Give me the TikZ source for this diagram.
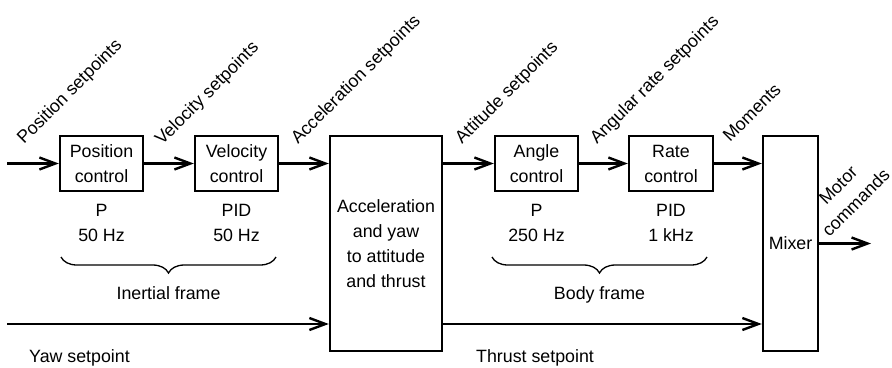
\documentclass[tikz,border=0pt]{standalone}
\usepackage{fontspec}
\setmainfont{Liberation Sans}
\usetikzlibrary{arrows.meta,decorations.pathreplacing}
\begin{document}
\begin{tikzpicture}[x=1pt,y=-1pt,
  every node/.style={font=\fontsize{17.8}{25}\selectfont},
  block/.style={draw, line width=2.4pt, align=center, inner sep=0pt},
  flow/.style={line width=2.4pt, -{Straight Barb[length=16pt,width=12pt]}},
  tag/.style={anchor=base west, rotate=45, inner sep=0pt},
  note/.style={anchor=base west, inner sep=0pt},
  info/.style={align=center, inner sep=0pt},
  framebrace/.style={decorate, decoration={brace, mirror, amplitude=16pt}, line width=1.3pt}]

% canvas
\fill[white] (0,0) rectangle (892,367);
\useasboundingbox (0,0) rectangle (892,367);

% controller blocks
\node[block, minimum width=83pt, minimum height=55pt] (pos) at (101.5,163.5) {Position\\control};
\node[block, minimum width=83pt, minimum height=55pt] (vel) at (236.5,163.5) {Velocity\\control};
\node[block, minimum width=112pt, minimum height=215pt] (acc) at (386,243.5) {Acceleration\\and yaw\\to attitude\\and thrust};
\node[block, minimum width=83pt, minimum height=55pt] (ang) at (536.5,163.5) {Angle\\control};
\node[block, minimum width=84pt, minimum height=55pt] (rate) at (671,163.5) {Rate\\control};
\node[block, minimum width=55pt, minimum height=215pt] (mix) at (790.5,243.5) {Mixer};

% free ends of the signal lines
\coordinate (posin) at (7,163.5);
\coordinate (yawin) at (7,324);
\coordinate (out) at (871,243.5);

% signal flow
\draw[flow] (posin) -- (pos);
\draw[flow] (pos) -- (vel);
\draw[flow] (vel) -- (acc.west |- vel);
\draw[flow] (acc.east |- ang) -- (ang);
\draw[flow] (ang) -- (rate);
\draw[flow] (rate) -- (mix.west |- rate);
\draw[flow] (yawin) -- (acc.west |- yawin);
\draw[flow] (acc.east |- yawin) -- (mix.west |- yawin);
\draw[flow] (mix) -- (out);

% signal names
\node[tag] (lpos) at (24,145) {Position setpoints};
\node[tag] (lvel) at (162,146) {Velocity setpoints};
\node[tag] (lacc) at (298,145) {Acceleration setpoints};
\node[tag] (latt) at (462,145) {Attitude setpoints};
\node[tag] (lrate) at (597,145) {Angular rate setpoints};
\node[tag] (lmom) at (730,143) {Moments};
\node[rotate=45, align=center, inner sep=0pt] (lmot) at (847,194) {Motor\\commands};
\node[note] (lyaw) at (29,362) {Yaw setpoint};
\node[note] (lthr) at (476,362) {Thrust setpoint};

% controller types and rates
\node[info] (ipos) at (101.5,223.2) {P\\50 Hz};
\node[info] (ivel) at (236.5,223.2) {PID\\50 Hz};
\node[info] (iang) at (536.5,223.2) {P\\250 Hz};
\node[info] (irate) at (671,223.2) {PID\\1 kHz};

% reference frames
\coordinate (ib1) at (61,257);
\coordinate (ib2) at (276,257);
\coordinate (bb1) at (492,257);
\coordinate (bb2) at (707,257);
\draw[framebrace] (ib1) -- (ib2);
\draw[framebrace] (bb1) -- (bb2);
\node[anchor=base, inner sep=0pt] (finert) at (168.5,299) {Inertial frame};
\node[anchor=base, inner sep=0pt] (fbody) at (599.5,299) {Body frame};
\end{tikzpicture}
\end{document}
